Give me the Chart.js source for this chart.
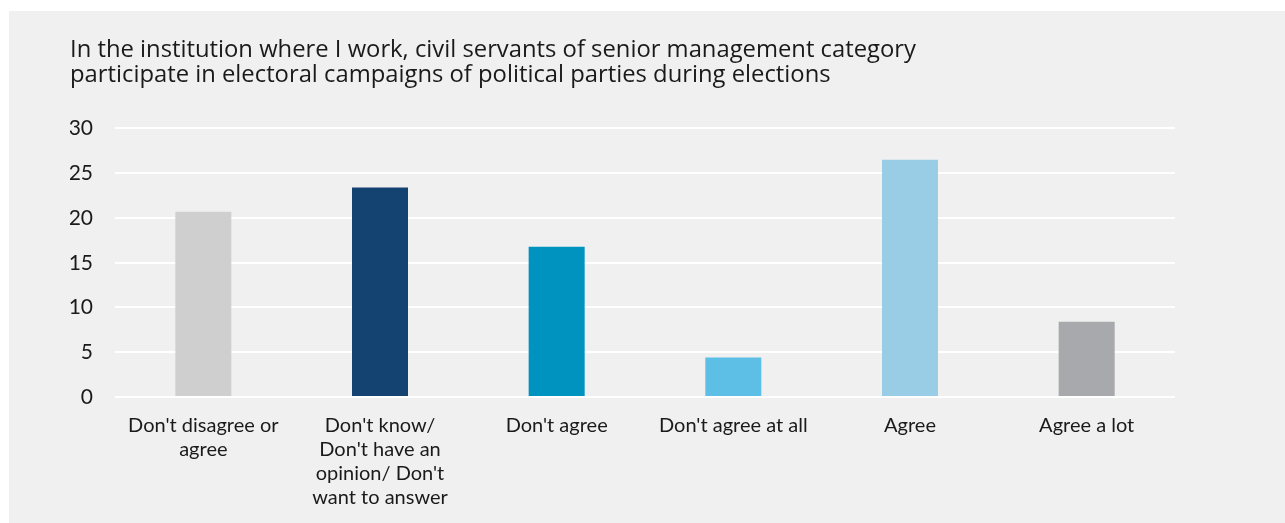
<!DOCTYPE html>
<html>
<head>
<meta charset="utf-8">
<script src="https://cdn.jsdelivr.net/npm/chart.js@4"></script>
<style>
    html, body { margin: 0; padding: 0; background: #ffffff; }
    #panel { position: absolute; left: 9px; top: 11px; right: 0; bottom: 0; background: #f0f0f0; }
    #wrap { position: absolute; left: 0; top: 0; width: 1285px; height: 523px; }
</style>
</head>
<body>
<div id="panel"></div>
<div id="wrap"><canvas id="chart"></canvas></div>
<script>
// chart data
const titleLines = [
    'In the institution where I work, civil servants of senior management category',
    'participate in electoral campaigns of political parties during elections'
];
const categories = [
    ["Don't disagree or", 'agree'],
    ["Don't know/", "Don't have an", "opinion/ Don't", 'want to answer'],
    ["Don't agree"],
    ["Don't agree at all"],
    ['Agree'],
    ['Agree a lot']
];
const values = [20.7, 23.4, 16.8, 4.4, 26.5, 8.4];
const barColors = ['#cfcfcf', '#144372', '#0093c0', '#5dbfe6', '#99cde5', '#a8a9ad'];
const yTicks = [0, 5, 10, 15, 20, 25, 30];

const labelFont = 'Lato, "Noto Sans", sans-serif';
const titleFont = '"Open Sans", Lato, sans-serif';

const ctx = document.getElementById('chart').getContext('2d');
new Chart(ctx, {
    type: 'bar',
    data: {
        labels: categories,
        datasets: [{
            data: values,
            backgroundColor: barColors,
            borderWidth: 0,
            barPercentage: 0.317,
            categoryPercentage: 1
        }]
    },
    options: {
        responsive: true,
        maintainAspectRatio: false,
        animation: false,
        layout: {
            padding: { left: 70, right: 110, top: 37.5, bottom: -4 }
        },
        plugins: {
            legend: { display: false },
            tooltip: { enabled: false },
            title: {
                display: true,
                text: titleLines,
                align: 'start',
                color: '#1a1a1a',
                font: { family: titleFont, size: 23.8, weight: 'normal', lineHeight: 1.05 },
                padding: { top: 0, bottom: 41 }
            }
        },
        scales: {
            x: {
                grid: { display: false, drawTicks: false },
                border: { display: false },
                afterFit: (scale) => {
                    // labels fit inside their categories, no side overhang
                    scale.paddingLeft = 0;
                    scale.paddingRight = 0;
                },
                ticks: {
                    color: '#1a1a1a',
                    font: { family: labelFont, size: 20, lineHeight: 1.2 },
                    padding: 17,
                    maxRotation: 0,
                    autoSkip: false
                }
            },
            y: {
                min: 0,
                max: 30,
                afterBuildTicks: (axis) => {
                    axis.ticks = yTicks.map(v => ({ value: v }));
                },
                afterFit: (scale) => {
                    scale.width = 45;
                },
                grid: { color: '#ffffff', lineWidth: 2, drawTicks: false },
                border: { display: false },
                ticks: {
                    color: '#1a1a1a',
                    font: { family: labelFont, size: 21 },
                    padding: 22
                }
            }
        }
    }
});
</script>
</body>
</html>
